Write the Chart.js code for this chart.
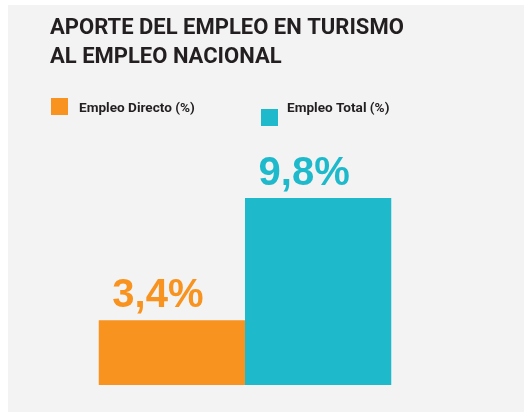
<!DOCTYPE html>
<html>
<head>
<meta charset="utf-8">
<script src="https://cdn.jsdelivr.net/npm/chart.js@4.4.1/dist/chart.umd.min.js"></script>
<style>
  body { margin: 0; background: #ffffff; }
  #panel { position: absolute; left: 8px; top: 5px; width: 516px; height: 407px; background: #f3f3f3; }
</style>
</head>
<body>
<div id="panel"><canvas id="myChart" width="516" height="407"></canvas></div>
<script>
const titleLines = ['APORTE DEL EMPLEO EN TURISMO', 'AL EMPLEO NACIONAL'];
const categories = ['Empleo'];
const seriesLabels = ['Empleo Directo (%)', 'Empleo Total (%)'];
const directValues = [3.4];
const totalValues = [9.8];
const seriesColors = ['#f7931e', '#1ebacc'];

// legend drawn by hand: the second box sits lower than its text
const legendPlugin = {
  id: 'customLegend',
  afterDraw: (chart) => {
    const ctx = chart.ctx;
    const boxes = [
      { x: 43, y: 93, textX: 71 },
      { x: 253, y: 104, textX: 279 }
    ];
    ctx.save();
    ctx.font = 'bold 13.6px Roboto';
    ctx.textBaseline = 'alphabetic';
    ctx.textAlign = 'left';
    chart.data.datasets.forEach((ds, i) => {
      const b = boxes[i];
      ctx.fillStyle = ds.backgroundColor;
      ctx.fillRect(b.x, b.y, 17, 17);
      ctx.fillStyle = '#231f20';
      ctx.fillText(ds.label, b.textX, 107);
    });
    ctx.restore();
  }
};

const valueLabels = {
  id: 'valueLabels',
  afterDatasetsDraw: (chart) => {
    const ctx = chart.ctx;
    ctx.save();
    ctx.font = 'bold 40px "Liberation Sans", Arial';
    ctx.textAlign = 'center';
    ctx.textBaseline = 'alphabetic';
    chart.data.datasets.forEach((ds, i) => {
      chart.getDatasetMeta(i).data.forEach((bar, j) => {
        const v = ds.data[j];
        ctx.fillStyle = ds.backgroundColor;
        ctx.fillText(v.toFixed(1).replace('.', ',') + '%', bar.x - 14, bar.y - 13);
      });
    });
    ctx.restore();
  }
};

var ctx = document.getElementById('myChart').getContext('2d');
var chart = new Chart(ctx, {
  type: 'bar',
  data: {
    labels: categories,
    datasets: [
      {
        label: seriesLabels[0],
        data: directValues,
        backgroundColor: seriesColors[0],
        borderWidth: 0,
        barPercentage: 1,
        categoryPercentage: 0.75
      },
      {
        label: seriesLabels[1],
        data: totalValues,
        backgroundColor: seriesColors[1],
        borderWidth: 0,
        barPercentage: 1,
        categoryPercentage: 0.75
      }
    ]
  },
  options: {
    responsive: false,
    animation: false,
    layout: {
      padding: { left: 42, right: 84, top: 0, bottom: 27 }
    },
    scales: {
      x: { display: false },
      y: { display: false, min: 0, max: 13 }
    },
    plugins: {
      legend: { display: false },
      tooltip: { enabled: false },
      title: {
        display: true,
        text: titleLines,
        align: 'start',
        color: '#231f20',
        font: { size: 22, weight: 'bold', family: 'Roboto', lineHeight: 1.32 },
        padding: { top: 9, bottom: 65 }
      }
    }
  },
  plugins: [legendPlugin, valueLabels]
});
</script>
</body>
</html>
